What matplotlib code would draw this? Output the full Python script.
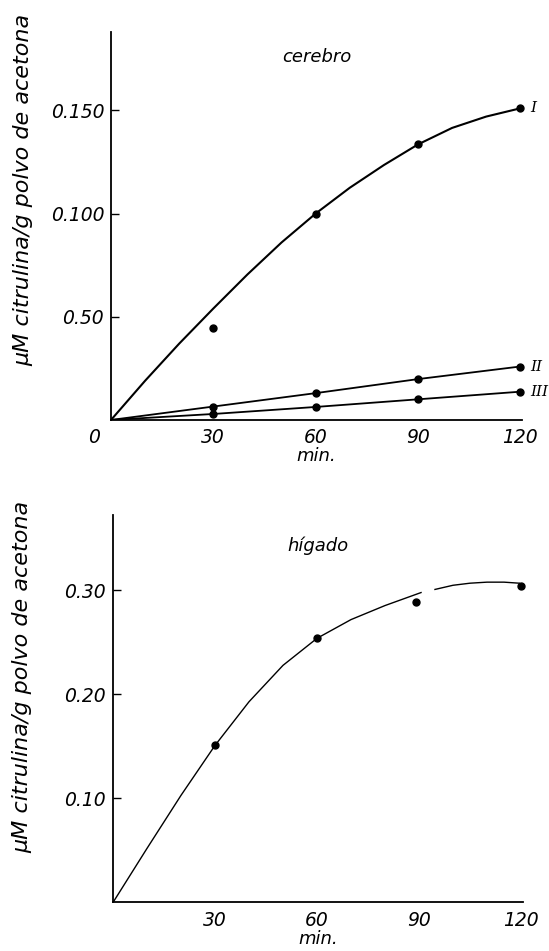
import matplotlib
matplotlib.use("Agg")
import matplotlib.pyplot as plt

# minutes of incubation
minutes = [30, 60, 90, 120]

# cerebro: measured points
cer_I = [0.0445, 0.100, 0.1335, 0.151]
cer_II = [0.0065, 0.013, 0.0198, 0.0259]
cer_III = [0.0029, 0.0063, 0.010, 0.0137]

# cerebro: drawn curve I
curve_I_t = [0, 10, 20, 30, 40, 50, 60, 70, 80, 90, 100, 110, 120]
curve_I_y = [0, 0.019, 0.037, 0.054, 0.0705, 0.086, 0.100, 0.1125, 0.1235,
             0.1335, 0.1415, 0.147, 0.151]

# higado: measured points
hig_t = [30, 60, 89, 120]
hig_y = [0.151, 0.254, 0.2887, 0.3046]

# higado: drawn curve, in two pieces (gap near 90 min)
hig_curve_a_t = [0, 10, 20, 30, 40, 50, 60, 70, 80, 90.6]
hig_curve_a_y = [0, 0.052, 0.103, 0.151, 0.193, 0.228, 0.254, 0.272, 0.2855, 0.298]
hig_curve_b_t = [94.7, 100, 105, 110, 115, 119.5]
hig_curve_b_y = [0.301, 0.305, 0.307, 0.308, 0.308, 0.307]

top_ticks = [0.05, 0.10, 0.15]
top_ticklabels = ["0.50", "0.100", "0.150"]
bot_ticks = [0.10, 0.20, 0.30]
bot_ticklabels = ["0.10", "0.20", "0.30"]
x_ticks = [30, 60, 90, 120]
x_ticklabels = ["30", "60", "90", "120"]

ylabel = "\u03bcM citrulina/g polvo de acetona"

fig = plt.figure(figsize=(5.49, 9.51), dpi=100)

ax1 = fig.add_axes([0.2022, 0.5584, 0.7486, 0.408])
ax2 = fig.add_axes([0.2058, 0.051, 0.7463, 0.4075])


def style_axes(ax, ymax, yticks, yticklabels):
    ax.set_xlim(0, 120.5)
    ax.set_ylim(0, ymax)
    for s in ["top", "right"]:
        ax.spines[s].set_visible(False)
    for s in ["left", "bottom"]:
        ax.spines[s].set_linewidth(1.3)
    ax.set_yticks(yticks)
    ax.set_yticklabels(yticklabels, fontsize=13.5, style="italic")
    ax.set_xticks(x_ticks)
    ax.set_xticklabels(x_ticklabels, fontsize=13.5, style="italic")
    ax.tick_params(axis="y", direction="in", length=6, width=1.0, pad=5)
    ax.tick_params(axis="x", length=0, pad=6)


style_axes(ax1, 0.188, top_ticks, top_ticklabels)
style_axes(ax2, 0.3726, bot_ticks, bot_ticklabels)

# cerebro
ax1.plot(curve_I_t, curve_I_y, color="black", lw=1.5)
ax1.plot([0] + minutes, [0] + cer_II, color="black", lw=1.3)
ax1.plot([0] + minutes, [0] + cer_III, color="black", lw=1.3)
ax1.plot(minutes, cer_I, "o", color="black", ms=5, clip_on=False)
ax1.plot(minutes, cer_II, "o", color="black", ms=5, clip_on=False)
ax1.plot(minutes, cer_III, "o", color="black", ms=5, clip_on=False)

ax1.text(123, cer_I[-1], "I", fontsize=11, style="italic", family="DejaVu Serif",
         va="center", ha="left")
ax1.text(123, cer_II[-1], "II", fontsize=11, style="italic", family="DejaVu Serif",
         va="center", ha="left")
ax1.text(123, cer_III[-1], "III", fontsize=11, style="italic", family="DejaVu Serif",
         va="center", ha="left")

ax1.text(0.5, 0.935, "cerebro", transform=ax1.transAxes, fontsize=13,
         style="italic", ha="center", va="center")
ax1.text(-5, -0.004, "0", fontsize=13.5, style="italic", ha="center", va="top")
ax1.set_xlabel("min.", fontsize=13, style="italic", labelpad=0)
ax1.set_ylabel(ylabel, fontsize=16, style="italic")
ax1.yaxis.set_label_coords(-0.19, 0.593)

# higado
ax2.plot(hig_curve_a_t, hig_curve_a_y, color="black", lw=1.0)
ax2.plot(hig_curve_b_t, hig_curve_b_y, color="black", lw=1.0)
ax2.plot(hig_t, hig_y, "o", color="black", ms=5, clip_on=False)

ax2.text(0.5, 0.92, "h\u00edgado", transform=ax2.transAxes, fontsize=13,
         style="italic", ha="center", va="center")
ax2.set_xlabel("min.", fontsize=13, style="italic", labelpad=0)
ax2.set_ylabel(ylabel, fontsize=16, style="italic")
ax2.yaxis.set_label_coords(-0.196, 0.582)

fig.savefig("out.png", dpi=100)
